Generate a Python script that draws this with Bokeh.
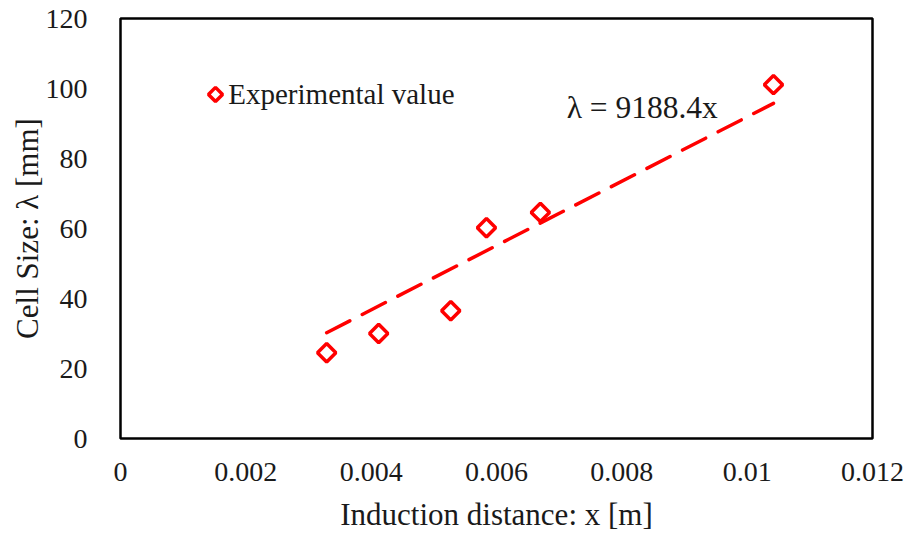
import math
from bokeh.plotting import figure
from bokeh.models import Range1d, FixedTicker
from bokeh.core.properties import value
from bokeh.embed import file_html
from bokeh.resources import INLINE

# Data
x_vals = [0.00329, 0.00412, 0.00527, 0.00584, 0.0067, 0.01042]
lam_vals = [24.5, 30.0, 36.5, 60.2, 64.6, 101.1]
slope = 9188.4
x_ticks = [0, 0.002, 0.004, 0.006, 0.008, 0.01, 0.012]
x_tick_labels = ["0", "0.002", "0.004", "0.006", "0.008", "0.01", "0.012"]
y_ticks = [0, 20, 40, 60, 80, 100, 120]
series_name = "Experimental value"
eq_text = "\u03bb = 9188.4x"

FONT = "Liberation Serif"
RED = "#FF0000"
TXT = "#1a1a1a"

p = figure(width=908, height=534, output_backend="svg", toolbar_location=None,
           x_range=Range1d(0, 0.012), y_range=Range1d(0, 120),
           min_border_left=120, min_border_right=36, min_border_top=18, min_border_bottom=95)
p.xgrid.visible = False
p.ygrid.visible = False
p.outline_line_color = "black"
p.outline_line_width = 2.5

# Trend line
x_fit = [min(x_vals), max(x_vals)]
y_fit = [slope * v for v in x_fit]
p.line(x_fit, y_fit, line_color=RED, line_width=3.5, line_dash="26 14", line_cap="round")

p.scatter(x_vals, lam_vals, marker="square", angle=math.pi / 4, size=13, line_color=RED,
          line_width=3.5, fill_color="white")

# Legend entry (rotated-square marker + label)
p.scatter(x=[0.001516], y=[98.3], marker="square", angle=math.pi / 4, size=10, line_color=RED,
          line_width=3.5, fill_color="white")
p.text(x=[0.00172], y=[98.3], text=[series_name], text_font=value(FONT), text_font_size="29px",
       text_color=TXT, text_baseline="middle", text_align="left")

p.text(x=[0.00712], y=[94.5], text=[eq_text], text_font=value(FONT), text_font_size="31.5px",
       text_color=TXT, text_baseline="middle", text_align="left")

p.xaxis.ticker = FixedTicker(ticks=x_ticks)
p.xaxis.major_label_overrides = {t: l for t, l in zip(x_ticks, x_tick_labels)}
p.yaxis.ticker = FixedTicker(ticks=y_ticks)

for ax in (p.xaxis[0], p.yaxis[0]):
    ax.axis_line_color = None
    ax.major_tick_line_color = None
    ax.minor_tick_line_color = None
    ax.major_label_text_font = FONT
    ax.major_label_text_font_size = "28px"
    ax.major_label_text_color = TXT
    ax.axis_label_text_font = FONT
    ax.axis_label_text_font_size = "31px"
    ax.axis_label_text_font_style = "normal"
    ax.axis_label_text_color = TXT

p.xaxis.axis_label = "Induction distance: x [m]"
p.yaxis.axis_label = "Cell Size: \u03bb [mm]"
p.xaxis.major_label_standoff = 18
p.yaxis.major_label_standoff = 27
p.xaxis.axis_label_standoff = 13
p.yaxis.axis_label_standoff = -2

open("out.html", "w").write(file_html(p, INLINE))
